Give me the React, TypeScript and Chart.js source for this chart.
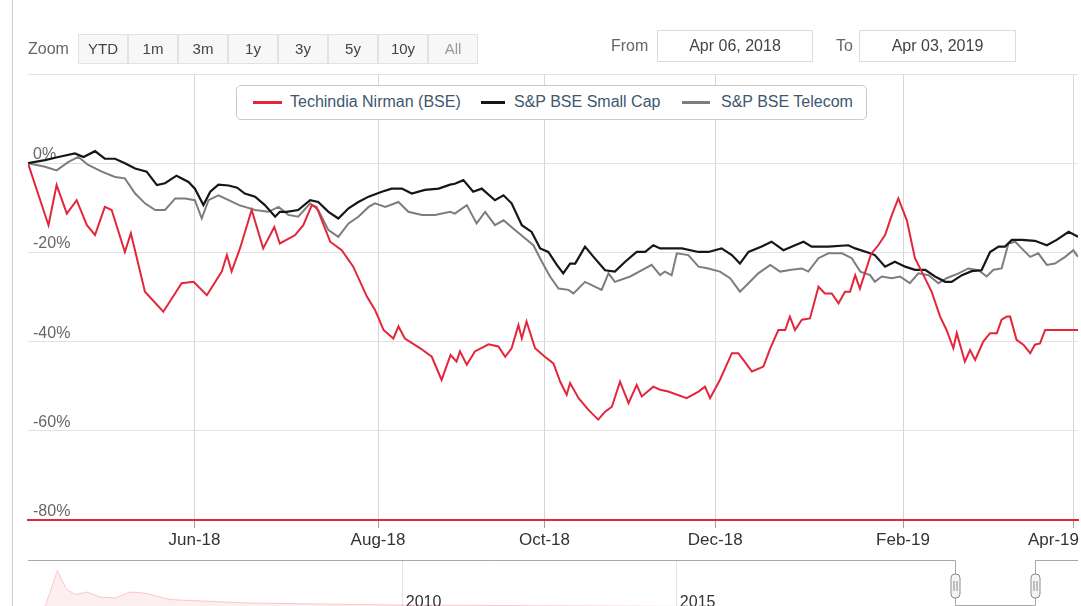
import React, { useEffect, useRef } from "react";
import { Chart, registerables } from "chart.js";
Chart.register(...registerables);

const FONT = '"Liberation Sans", Arial, Helvetica, sans-serif';

// ---- series names & colours ----
const seriesNames = ["Techindia Nirman (BSE)", "S&P BSE Small Cap", "S&P BSE Telecom"];
const seriesColors = ["#e3263b", "#161616", "#7d7d7d"];

// ---- x = trading-day index since Apr 06, 2018 ; y = % change ----
const techX = [0,4.8,6.7,9.1,11.4,13.8,15.7,18,19.6,22.7,24.1,27.4,31.7,36,38.8,41.9,45.4,46.6,47.7,49.7,52.4,55.1,57.7,59,62.6,64.5,66.5,67.6,70.8,73.5,76.2,79.4,81.3,83.3,85.6,86.8,88.3,91.9,94.6,96.9,99,100.4,101.2,102.8,104.7,107.9,110.2,111.8,113.3,114.9,115.7,116.8,118.8,121.1,123.1,124.7,126.2,127,129,131.3,133.6,135.2,136.8,138.7,140.7,142.6,143.8,146.5,148.1,150,154.3,157.1,158.6,159.8,162.1,164.9,166.4,167.6,169.6,172.3,173.9,175.8,177.4,178.5,179.7,181.3,183.2,185.2,186.7,188.3,189.9,191.4,192.6,193.8,194.9,197.5,199.2,200.8,202.4,203.9,205.9,207.8,209.8,211.7,213.7,215.2,216.8,217.6,219.5,220.7,221.9,223.8,225.4,227,228.1,229.3,230.1,231.6,233.2,234.8,235.9,237.1,238.3,246];
const techY = [0,-13.9,-4.9,-11.3,-8.3,-13.9,-16.1,-9.8,-10.5,-19.9,-15.7,-28.8,-33.3,-26.9,-26.6,-29.6,-24.3,-20.6,-24.3,-19,-10.5,-19.1,-14.3,-18,-16.1,-13.9,-9.4,-9.8,-17.6,-19.5,-23.2,-29.9,-32.9,-37.4,-39.3,-36.6,-39.3,-41.5,-43.4,-48.6,-43,-44.5,-42.2,-45.2,-42.2,-40.6,-41.1,-43.4,-41.5,-36.3,-39.3,-35.5,-41.5,-43.4,-44.9,-49,-51.9,-49.3,-52.7,-55.3,-57.5,-55.7,-54.6,-49,-53.8,-49.7,-52.3,-50.1,-50.8,-51.2,-52.7,-51.2,-50.1,-52.7,-48.6,-42.6,-42.6,-44.1,-46.7,-45.6,-41.5,-37.4,-37.4,-34.4,-37.4,-35.1,-34.8,-27.7,-29.2,-29.2,-31.4,-28.8,-28.8,-25.1,-28.1,-20.4,-18.4,-16.1,-11.6,-7.9,-12.8,-21.3,-25.1,-28.8,-34.4,-37.4,-41.5,-38.1,-44.5,-41.9,-44.1,-40,-38.1,-38.1,-35.1,-34.4,-34.4,-39.6,-40.7,-42.6,-40.7,-40.4,-37.4,-37.4];

const smallX = [0,4,7.1,11,13,15.7,18,20.4,22.7,25.1,27.8,30.2,32.1,34.8,37.6,39.1,41.1,42.7,44.6,47,49,50.8,53.2,55.5,57.9,59,60.6,63.3,66.1,68,70.4,72.7,75.1,77.4,79.8,82.9,85.2,87.6,89.9,93,96.2,98.9,100,102,104.3,106.3,109.4,111.4,113.3,115.7,118,120,121.9,123.9,125.4,127,128.2,130.5,132.5,135.2,137.5,139.9,142.6,144.6,146.5,148.1,150,153.2,157.1,159.4,162.5,164.9,166.8,168.8,171.9,174.2,177,179.7,181.7,183.6,187.5,192.2,193.8,197.3,198.4,200.8,203.1,205.5,207.8,210.2,212.5,214.9,216.4,218.8,221.1,223.4,225.4,227.4,228.9,230.5,232.8,235.9,238.7,241,243.8,246];
const smallY = [0,0.7,1.4,2.2,1.4,2.7,1,1,0,-1.2,-1.9,-4.9,-4.5,-2.8,-4.2,-5.7,-9.4,-6.4,-4.8,-5,-5.5,-6.8,-7.5,-9.4,-12,-10.9,-10.9,-10.5,-8.3,-8.7,-10.9,-12.4,-10.1,-8.7,-7.5,-6.4,-5.7,-5.7,-6.8,-6,-5.7,-4.8,-4.6,-3.8,-6.4,-5.7,-8.3,-7.2,-9,-13.9,-15.4,-19.1,-19.9,-22.8,-24.7,-22.5,-22.5,-18.7,-21,-24,-24.3,-22.1,-19.9,-19.9,-18.4,-19.1,-19.1,-19.1,-19.9,-19.9,-19.1,-20.6,-22.5,-19.9,-18.7,-17.6,-19.5,-18.4,-17.6,-18.7,-18.7,-18.4,-19.1,-20.2,-20.6,-23.2,-22.1,-23.2,-23.9,-23.9,-25.4,-26.6,-26.6,-25.1,-24.2,-24,-19.9,-18.7,-18.7,-17.2,-17.2,-17.4,-18.4,-17.2,-15.4,-16.5];

const telX = [0,4,6.7,9.5,11.8,14.1,17.3,20.4,22.7,25.1,27.4,29.8,32.1,34.5,36.8,39.1,40.7,42.3,44.6,47,49.7,50.8,53.2,56.3,58.7,61,63.3,66.1,68,70.4,72.7,75.1,77.4,79.8,81.3,83.7,86.8,89.1,92.3,95.4,98.9,100,102.8,105.1,107.1,109.4,111.4,114.1,116.5,118.4,120.4,122.3,124.3,126.6,127.8,130.5,134.4,136,137.5,141.1,144.6,146.1,148.1,149.2,150.8,152,154.7,157.1,159.4,162.1,164.5,166.8,168.8,171.1,173.9,176.2,178.9,181.3,182.8,185.2,187.5,190.7,193,195,197.3,198.4,200,202.4,204.3,206.6,208.6,211,213.3,215.2,218,220.3,222.7,224.6,226.2,228.1,229.7,231.3,232.8,234.8,236.7,238.7,240.6,243,244.9,246];
const telY = [0,-0.8,-1.6,0.3,1.4,-0.4,-1.9,-3.1,-3.4,-6.8,-9,-10.5,-10.5,-7.9,-7.9,-8.3,-12.4,-8.3,-7.2,-8.3,-9.5,-9.8,-10.5,-10.9,-9.8,-11.6,-12,-9,-10.5,-15,-16.5,-13.5,-12,-9.8,-9,-9.8,-8.7,-10.9,-11.6,-11.6,-10.9,-11.3,-9.4,-13.5,-10.9,-13.9,-12.8,-15,-16.9,-18.4,-22.1,-25.4,-28.1,-28.4,-29.2,-26.6,-28.4,-24.7,-26.6,-25.4,-23.6,-22.8,-25.1,-24.3,-25.1,-20.2,-20.6,-23.2,-23.6,-24.3,-25.8,-28.8,-26.9,-24.7,-22.8,-24.3,-23.9,-23.6,-24.3,-21.3,-20.2,-20.2,-21.3,-24.3,-25.1,-26.6,-25.4,-25.8,-25.4,-26.9,-24.7,-25.1,-26.9,-25.8,-24.7,-23.6,-24,-25.4,-23.9,-23.6,-18,-17.6,-19.1,-21,-20.2,-22.8,-22.5,-21,-19.5,-21];

// ---- axes ----
const xMax = 246;
const tickDays = [39, 82, 121, 161, 205, 245];
const tickLabels = ["Jun-18", "Aug-18", "Oct-18", "Dec-18", "Feb-19", "Apr-19"];
const yTicks = [-80, -60, -40, -20, 0, 20];

// ---- range selector ----
const zoomButtons = ["YTD", "1m", "3m", "1y", "3y", "5y", "10y", "All"];
const fromDate = "Apr 06, 2018";
const toDate = "Apr 03, 2019";

// ---- navigator (long history, ordinal position 0..100) ----
const navX = [1.6, 2.1, 2.8, 3.3, 3.7, 4.5, 5.6, 6.9, 8.3, 9.7, 11.1, 13.5, 21, 35.4, 54.5, 73.5, 87.8, 100];
const navY = [10, 40, 83, 60, 45, 35, 40, 30, 28, 40, 38, 25, 18, 14, 12, 10, 8, 9];
const navTickPos = [35.6, 61.7];
const navTickLabels = ["2010", "2015"];
const navRange = [88.3, 95.9];

export default function App() {
  const mainRef = useRef<HTMLCanvasElement>(null);
  const navRef = useRef<HTMLCanvasElement>(null);

  useEffect(() => {
    const mk = (xs: number[], ys: number[]) => xs.map((x, i) => ({ x, y: ys[i] }));

    const yLabelPlugin = {
      id: "yLabels",
      beforeDatasetsDraw(chart: any) {
        const ctx = chart.ctx;
        const ys = chart.scales.y;
        ctx.save();
        ctx.font = `16px ${FONT}`;
        ctx.fillStyle = "#666";
        ctx.textAlign = "left";
        ctx.textBaseline = "alphabetic";
        yTicks.forEach((v) => {
          if (v === yTicks[yTicks.length - 1]) return;
          const py = ys.getPixelForValue(v);
          ctx.fillText(`${v}%`, chart.chartArea.left + 5, py - 4);
        });
        ctx.restore();
      },
    };

    const xLabelPlugin = {
      id: "xLabels",
      afterDraw(chart: any) {
        const ctx = chart.ctx;
        const xs = chart.scales.x;
        ctx.save();
        ctx.font = `17px ${FONT}`;
        ctx.fillStyle = "#333";
        ctx.textAlign = "center";
        ctx.textBaseline = "middle";
        tickDays.forEach((d, i) => {
          let px = xs.getPixelForValue(d);
          const w = ctx.measureText(tickLabels[i]).width;
          if (px + w / 2 > chart.width - 2) px = chart.width - 2 - w / 2;
          ctx.fillText(tickLabels[i], px, chart.chartArea.bottom + 20);
        });
        ctx.restore();
      },
    };

    const main = new Chart(mainRef.current as HTMLCanvasElement, {
      type: "line",
      data: {
        datasets: [
          { label: seriesNames[0], data: mk(techX, techY), borderColor: seriesColors[0], borderWidth: 2, pointRadius: 0, fill: false, tension: 0 },
          { label: seriesNames[1], data: mk(smallX, smallY), borderColor: seriesColors[1], borderWidth: 2.2, pointRadius: 0, fill: false, tension: 0 },
          { label: seriesNames[2], data: mk(telX, telY), borderColor: seriesColors[2], borderWidth: 2, pointRadius: 0, fill: false, tension: 0 },
        ],
      },
      options: {
        animation: false,
        responsive: false,
        maintainAspectRatio: false,
        layout: { padding: { left: 28, right: 3, top: 74, bottom: 86 } },
        plugins: { legend: { display: false }, tooltip: { enabled: false } },
        scales: {
          x: {
            type: "linear",
            min: 0,
            max: xMax,
            afterBuildTicks: (s: any) => {
              s.ticks = tickDays.map((v) => ({ value: v }));
            },
            afterFit: (s: any) => {
              s.height = 0;
            },
            grid: { color: "#d6d6d6", lineWidth: 1, drawTicks: true, tickLength: 8, tickColor: "#a0a0a0" },
            border: { color: "#e3263b", width: 2 },
            ticks: { display: false },
          },
          y: {
            min: -80,
            max: 20,
            afterBuildTicks: (s: any) => {
              s.ticks = yTicks.map((v) => ({ value: v }));
            },
            afterFit: (s: any) => {
              s.width = 0;
            },
            grid: {
              color: (c: any) => (c.tick && c.tick.value === -80 ? "rgba(0,0,0,0)" : "#e2e2e2"),
              drawTicks: false,
            },
            border: { display: false },
            ticks: { display: false },
          },
        },
      } as any,
      plugins: [yLabelPlugin, xLabelPlugin],
    });

    const navPlugin = {
      id: "navDeco",
      beforeDatasetsDraw(chart: any) {
        const ctx = chart.ctx;
        const xs = chart.scales.x;
        ctx.save();
        ctx.strokeStyle = "#e4e4e4";
        ctx.lineWidth = 1;
        navTickPos.forEach((p) => {
          const px = Math.round(xs.getPixelForValue(p)) + 0.5;
          ctx.beginPath();
          ctx.moveTo(px, 8);
          ctx.lineTo(px, chart.height);
          ctx.stroke();
        });
        ctx.restore();
      },
      afterDraw(chart: any) {
        const ctx = chart.ctx;
        const xs = chart.scales.x;
        const a = chart.chartArea;
        const x1 = Math.round(xs.getPixelForValue(navRange[0])) + 0.5;
        const x2 = Math.round(xs.getPixelForValue(navRange[1])) + 0.5;
        ctx.save();
        ctx.font = `16px ${FONT}`;
        ctx.fillStyle = "#333";
        ctx.textAlign = "left";
        ctx.textBaseline = "alphabetic";
        navTickPos.forEach((p, i) => {
          ctx.fillText(navTickLabels[i], xs.getPixelForValue(p) + 4, 55);
        });
        // outline
        ctx.strokeStyle = "#a8a8a8";
        ctx.lineWidth = 1;
        ctx.beginPath();
        ctx.moveTo(a.left, 8.5);
        ctx.lineTo(x1, 8.5);
        ctx.lineTo(x1, 53.5);
        ctx.lineTo(x2, 53.5);
        ctx.lineTo(x2, 8.5);
        ctx.lineTo(a.right, 8.5);
        ctx.stroke();
        // handles
        [x1, x2].forEach((hx) => {
          const w = 9, h = 24, top = 22;
          ctx.beginPath();
          ctx.roundRect(hx - w / 2, top, w, h, 4);
          ctx.fillStyle = "#f4f4f4";
          ctx.fill();
          ctx.strokeStyle = "#8c8c8c";
          ctx.stroke();
          ctx.beginPath();
          ctx.moveTo(hx - 1.5, top + 7);
          ctx.lineTo(hx - 1.5, top + h - 7);
          ctx.moveTo(hx + 1.5, top + 7);
          ctx.lineTo(hx + 1.5, top + h - 7);
          ctx.strokeStyle = "#8c8c8c";
          ctx.stroke();
        });
        ctx.restore();
      },
    };

    const nav = new Chart(navRef.current as HTMLCanvasElement, {
      type: "line",
      data: {
        datasets: [
          {
            data: mk(navX, navY),
            borderColor: "rgba(227,38,59,0.22)",
            borderWidth: 1,
            backgroundColor: "rgba(227,38,59,0.08)",
            fill: "origin",
            pointRadius: 0,
            tension: 0,
          },
        ],
      },
      options: {
        animation: false,
        responsive: false,
        maintainAspectRatio: false,
        layout: { padding: { left: 28, right: 3, top: 10, bottom: 0 } },
        plugins: { legend: { display: false }, tooltip: { enabled: false } },
        scales: {
          x: { type: "linear", min: 0, max: 100, display: false },
          y: { min: 0, max: 100, display: false },
        },
      } as any,
      plugins: [navPlugin],
    });

    return () => {
      main.destroy();
      nav.destroy();
    };
  }, []);

  const btnLeft = 78;
  const btnW = 50;
  const legendSymbolX = [16, 244, 445];
  const legendSymbolW = [29, 24, 28];
  const legendTextX = [53, 277, 484];

  return (
    <div
      style={{
        position: "fixed",
        left: 0,
        top: 0,
        width: 1081,
        height: 606,
        overflow: "hidden",
        background: "#fff",
        fontFamily: FONT,
      }}
    >
      <canvas ref={mainRef} width={1081} height={606} style={{ position: "absolute", left: 0, top: 0, width: 1081, height: 606 }} />
      <canvas ref={navRef} width={1081} height={60} style={{ position: "absolute", left: 0, top: 552, width: 1081, height: 60 }} />

      {/* left border */}
      <div style={{ position: "absolute", left: 12, top: 0, width: 1, height: 606, background: "#cfcfcf" }} />

      {/* range selector */}
      <div style={{ position: "absolute", left: 28, top: 39, fontSize: 16, color: "#666", lineHeight: "20px" }}>Zoom</div>
      {zoomButtons.map((b, i) => (
        <div
          key={b}
          style={{
            position: "absolute",
            left: btnLeft + i * btnW,
            top: 34,
            width: btnW,
            height: 30,
            boxSizing: "border-box",
            border: "1px solid #e2e2e2",
            background: "#f7f7f7",
            color: b === "All" ? "#9a9a9a" : "#444",
            fontSize: 15,
            lineHeight: "28px",
            textAlign: "center",
          }}
        >
          {b}
        </div>
      ))}
      <div style={{ position: "absolute", left: 611, top: 36, fontSize: 16, color: "#666", lineHeight: "20px" }}>From</div>
      <div
        style={{
          position: "absolute",
          left: 657,
          top: 30,
          width: 156,
          height: 32,
          boxSizing: "border-box",
          border: "1px solid #dcdcdc",
          background: "#fff",
          color: "#444",
          fontSize: 16,
          lineHeight: "30px",
          textAlign: "center",
        }}
      >
        {fromDate}
      </div>
      <div style={{ position: "absolute", left: 836, top: 36, fontSize: 16, color: "#666", lineHeight: "20px" }}>To</div>
      <div
        style={{
          position: "absolute",
          left: 859,
          top: 30,
          width: 157,
          height: 32,
          boxSizing: "border-box",
          border: "1px solid #dcdcdc",
          background: "#fff",
          color: "#444",
          fontSize: 16,
          lineHeight: "30px",
          textAlign: "center",
        }}
      >
        {toDate}
      </div>

      {/* legend */}
      <div
        style={{
          position: "absolute",
          left: 236,
          top: 85,
          width: 631,
          height: 35,
          boxSizing: "border-box",
          border: "1px solid #c9c9c9",
          borderRadius: 5,
          background: "#fff",
        }}
      >
        {seriesNames.map((n, i) => (
          <React.Fragment key={n}>
            <div
              style={{
                position: "absolute",
                left: legendSymbolX[i],
                top: 15,
                width: legendSymbolW[i],
                height: 3,
                background: seriesColors[i],
              }}
            />
            <div
              style={{
                position: "absolute",
                left: legendTextX[i],
                top: 6,
                fontSize: 16,
                lineHeight: "20px",
                color: "#3e576f",
                whiteSpace: "nowrap",
              }}
            >
              {n}
            </div>
          </React.Fragment>
        ))}
      </div>
    </div>
  );
}
